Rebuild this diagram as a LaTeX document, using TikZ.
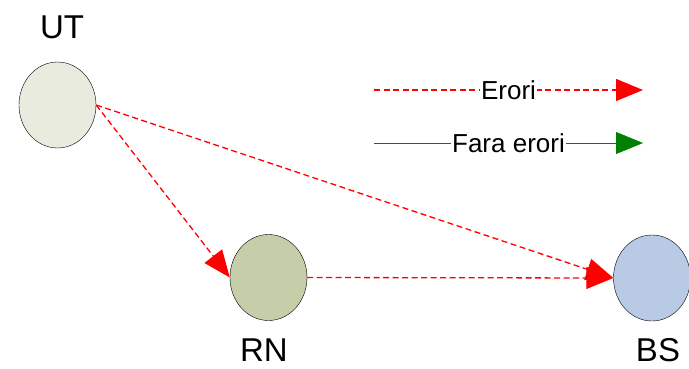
\documentclass[tikz,border=0pt]{standalone}
\usepackage{fontspec}
\setmainfont{Liberation Sans}
\usetikzlibrary{
    arrows.meta,
    positioning,
    shapes.geometric
}
\definecolor{utfill}{HTML}{E9EBDE}
\definecolor{rnfill}{HTML}{C5CDA9}
\definecolor{bsfill}{HTML}{B9CBE4}
\definecolor{okgreen}{HTML}{008000}

\begin{document}
\begin{tikzpicture}[
    x=1pt, y=-1pt,
    station/.style={ellipse, draw, thin, minimum width=77pt, minimum height=86pt, inner sep=0pt},
    stationname/.style={font=\fontsize{33}{35}\selectfont, inner sep=0pt},
    errlink/.style={red, dashed, dash pattern=on 6pt off 3.5pt, line width=1.3pt, -{Triangle[length=27pt, width=22pt]}},
    oklink/.style={okgreen, thin, -{Triangle[length=27pt, width=22pt]}},
    legtext/.style={fill=white, inner sep=1pt, text=black, font=\fontsize{26}{28}\selectfont}
]
\useasboundingbox (0,0) rectangle (689,368);

% Stations
\node[station, fill=utfill] (ut) at (57.5,105) {};
\node[station, fill=rnfill] (rn) at (268.5,277.5) {};
\node[station, fill=bsfill] (bs) at (652,278) {};

% Names
\node[stationname] (utlabel) at (62,27) {UT};
\node[stationname] (rnlabel) at (264,350) {RN};
\node[stationname] (bslabel) at (658,350) {BS};

% Links
\draw[errlink] (ut.east) -- (rn.west);
\draw[errlink] (ut.east) -- (bs.west);
\draw[errlink] (rn.east) -- (bs.west);

% Legend
\coordinate (errA) at (374,90);
\coordinate (errB) at (643,90);
\coordinate (okA) at (374,143);
\coordinate (okB) at (643,143);
\draw[errlink] (errA) -- (errB) node[legtext, pos=0.5] (errtext) {Erori};
\draw[oklink] (okA) -- (okB) node[legtext, pos=0.5] (oktext) {Fara erori};
\end{tikzpicture}
\end{document}
